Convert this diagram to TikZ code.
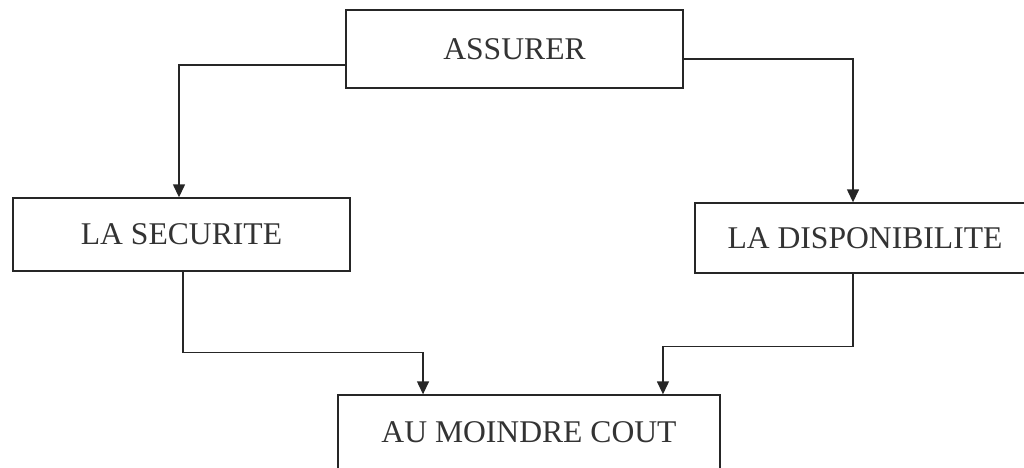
\documentclass[tikz,border=0pt]{standalone}
\usepackage{fontspec}
\setmainfont{Liberation Serif}
\usetikzlibrary{arrows.meta}
\begin{document}
\begin{tikzpicture}[
  x=0.02cm, y=-0.02cm,
  box/.style={rectangle, draw=black!85, line width=0.8pt, inner sep=0pt,
    text=black!80, font=\fontsize{18}{20}\selectfont},
  arr/.style={draw=black!85, line width=0.8pt, -{Triangle[length=2.6mm,width=2.4mm]}}
]
\useasboundingbox (0,0) rectangle (1024,467);
\node[box, minimum width=6.74cm, minimum height=1.56cm] (assurer) at (514.5,49) {ASSURER};
\node[box, minimum width=6.74cm, minimum height=1.46cm] (securite) at (181.5,234.5) {LA SECURITE};
\node[box, minimum width=6.8cm, minimum height=1.4cm] (dispo) at (865,238) {LA DISPONIBILITE};
\node[box, minimum width=7.64cm, minimum height=1.5cm] (moindre) at (529,432.5) {AU MOINDRE COUT};
\draw[arr] ([yshift=-0.32cm]assurer.west) -| ([xshift=-0.05cm]securite.north);
\draw[arr] ([yshift=-0.2cm]assurer.east) -| ([xshift=-0.24cm]dispo.north);
\draw[arr] ([xshift=0.03cm]securite.south) -- ++(0,81) -| ([xshift=-2.12cm]moindre.north);
\draw[arr] ([xshift=-0.24cm]dispo.south) -- ++(0,73) -| ([xshift=2.68cm]moindre.north);
\end{tikzpicture}
\end{document}
